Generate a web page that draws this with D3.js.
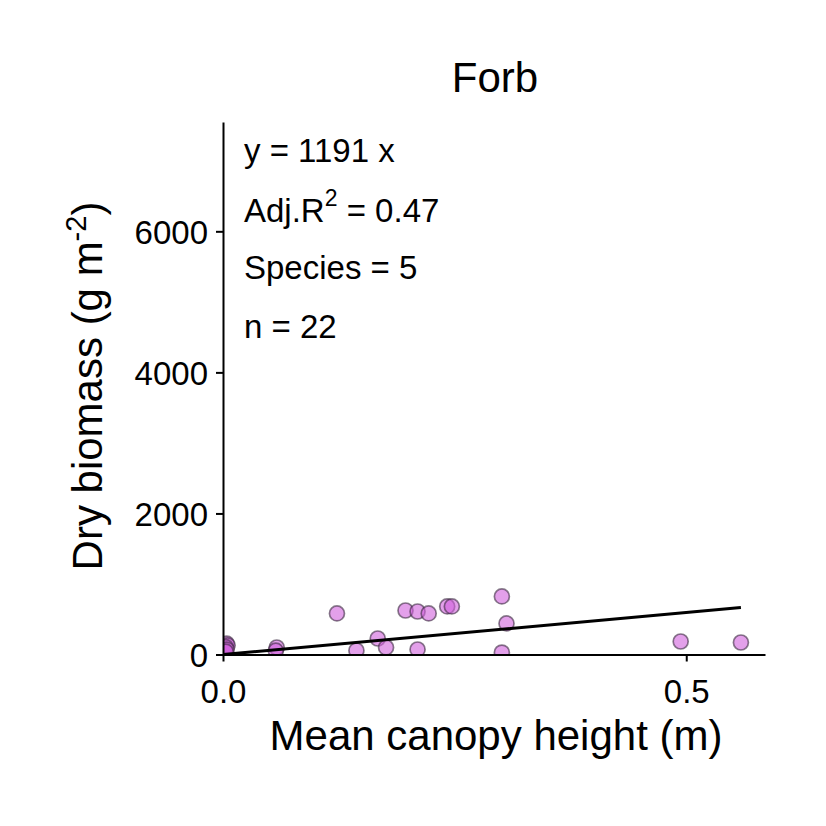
<!DOCTYPE html>
<html><head><meta charset="utf-8">
<script src="https://cdn.jsdelivr.net/npm/d3@7"></script>
<style>body{margin:0;background:#fff}svg{display:block}text{font-family:"Liberation Sans",Arial,sans-serif}</style>
</head><body>
<script>
const xVals = [0.004,0.005,0.003,0.004,0.003,0.058,0.057,0.123,0.144,0.167,0.176,0.197,0.210,0.210,0.222,0.242,0.247,0.301,0.306,0.301,0.494,0.559];
const yVals = [155,130,105,70,40,99,55,582,57,227,100,624,610,71,582,681,681,823,440,28,184,170];
const slope = 1191;
const xTicks = [0, 0.5];
const yTicks = [0, 2000, 4000, 6000];

const W = 826, H = 826;
const L = 223, R = 765, T = 122, B = 654.5;
const svg = d3.select("body").append("svg").attr("width", W).attr("height", H);
const x = d3.scaleLinear().domain([0, 0.585]).range([L, R]);
const y = d3.scaleLinear().domain([0, 7550]).range([B, T]);

svg.append("defs").append("clipPath").attr("id","clip").append("rect")
  .attr("x", L).attr("y", T).attr("width", R - L).attr("height", B - T);

const pts = svg.append("g").attr("clip-path","url(#clip)");
pts.selectAll("circle").data(xVals.map((v,i)=>[v,yVals[i]])).join("circle")
  .attr("cx", d=>x(d[0])).attr("cy", d=>y(d[1])).attr("r", 7.5)
  .attr("fill", "#d060dc").attr("fill-opacity", 0.6)
  .attr("stroke", "#3a2a40").attr("stroke-opacity", 0.6).attr("stroke-width", 1.7);

const xMaxData = d3.max(xVals);
pts.append("line")
  .attr("x1", x(0)).attr("y1", y(0)).attr("x2", x(xMaxData)).attr("y2", y(slope * xMaxData))
  .attr("stroke", "#000").attr("stroke-width", 3);

const xAxis = svg.append("g").attr("transform", `translate(0,${B})`)
  .call(d3.axisBottom(x).tickValues(xTicks).tickFormat(d3.format(".1f")).tickSize(7).tickSizeOuter(0));
const yAxis = svg.append("g").attr("transform", `translate(${L},0)`)
  .call(d3.axisLeft(y).tickValues(yTicks).tickFormat(d=>d).tickSize(7).tickSizeOuter(0));
[xAxis, yAxis].forEach(g=>{
  g.attr("font-family", null).attr("font-size", null);
  g.select(".domain").attr("stroke","#000").attr("stroke-width",2);
  g.selectAll(".tick line").attr("stroke","#000").attr("stroke-width",2);
  g.selectAll(".tick text").attr("fill","#000").style("font-size","33px");
});
xAxis.selectAll(".tick text").attr("dy", "0").attr("y", 48);
yAxis.selectAll(".tick text").attr("x", -15).attr("dy", "0.36em");

svg.append("text").attr("x", 495).attr("y", 92).attr("text-anchor","middle")
  .style("font-size","42px").text("Forb");

svg.append("text").attr("x", 496).attr("y", 750).attr("text-anchor","middle")
  .style("font-size","42px").text("Mean canopy height (m)");

const yt = svg.append("text").attr("transform", `translate(102,386) rotate(-90)`)
  .attr("text-anchor","middle").style("font-size","42px");
yt.append("tspan").text("Dry biomass (g m");
yt.append("tspan").attr("dy", -16).style("font-size","29px").text("-2");
yt.append("tspan").attr("dy", 16).text(")");

const ann = svg.append("g").style("font-size","33px");
ann.append("text").attr("x", 244).attr("y", 162).text("y = 1191 x");
const r2 = ann.append("text").attr("x", 244).attr("y", 222);
r2.append("tspan").text("Adj.R");
r2.append("tspan").attr("dy", -16).style("font-size","23px").text("2");
r2.append("tspan").attr("dy", 16).text(" = 0.47");
ann.append("text").attr("x", 244).attr("y", 279).text("Species = 5");
ann.append("text").attr("x", 244).attr("y", 338).text("n = 22");
</script>
</body></html>
